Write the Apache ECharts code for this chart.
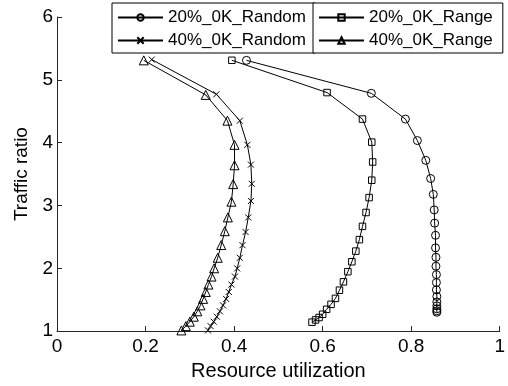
<!DOCTYPE html>
<html><head><meta charset="utf-8">
<script src="https://cdn.jsdelivr.net/npm/echarts@6/dist/echarts.min.js"></script>
<style>html,body{margin:0;padding:0;background:#fff}#c{width:508px;height:386px}</style>
</head><body><div id="c"></div>
<script>
const seriesNames = ['20%_0K_Random', '40%_0K_Random', '20%_0K_Range', '40%_0K_Range'];
const xLimits = [0, 1];
const yLimits = [1, 6];

const random20X = [0.428, 0.710, 0.787, 0.814, 0.833, 0.844, 0.850, 0.852, 0.853, 0.855, 0.855, 0.856, 0.856, 0.857, 0.857, 0.857, 0.858, 0.858, 0.858, 0.858, 0.858, 0.858];
const random20Y = [5.31, 4.785, 4.375, 4.033, 3.718, 3.429, 3.177, 2.929, 2.719, 2.525, 2.325, 2.175, 2.033, 1.899, 1.773, 1.655, 1.552, 1.465, 1.402, 1.355, 1.323, 1.30];

const range20X = [0.395, 0.610, 0.690, 0.711, 0.713, 0.711, 0.705, 0.698, 0.690, 0.683, 0.675, 0.666, 0.657, 0.647, 0.638, 0.629, 0.619, 0.609, 0.600, 0.592, 0.584, 0.576];
const range20Y = [5.311, 4.797, 4.375, 4.008, 3.692, 3.402, 3.125, 2.888, 2.667, 2.456, 2.273, 2.104, 1.946, 1.784, 1.651, 1.521, 1.426, 1.347, 1.268, 1.216, 1.178, 1.142];

const random40X = [0.214, 0.360, 0.413, 0.430, 0.438, 0.440, 0.438, 0.432, 0.426, 0.419, 0.413, 0.407, 0.402, 0.394, 0.388, 0.382, 0.375, 0.368, 0.361, 0.354, 0.347, 0.341];
const random40Y = [5.322, 4.770, 4.349, 3.965, 3.650, 3.345, 3.071, 2.809, 2.577, 2.368, 2.167, 1.998, 1.868, 1.741, 1.623, 1.513, 1.410, 1.315, 1.229, 1.150, 1.079, 1.011];

const range40X = [0.196, 0.336, 0.385, 0.401, 0.401, 0.398, 0.394, 0.386, 0.379, 0.371, 0.363, 0.355, 0.349, 0.342, 0.336, 0.330, 0.324, 0.317, 0.309, 0.300, 0.291, 0.281];
const range40Y = [5.31, 4.76, 4.35, 3.965, 3.64, 3.34, 3.06, 2.81, 2.59, 2.37, 2.167, 2.0, 1.868, 1.741, 1.623, 1.513, 1.410, 1.315, 1.229, 1.150, 1.079, 1.011];

const FONT = "'Liberation Sans', Arial, Helvetica, sans-serif";
const zip = (xs, ys) => xs.map((x, i) => [x, ys[i]]);

function mkSeries(name, xs, ys, symbol, size) {
  return {
    name, type: 'line', data: zip(xs, ys),
    symbol, symbolSize: size, showSymbol: true,
    lineStyle: { color: '#000', width: 1 },
    itemStyle: { color: 'transparent', borderColor: '#000', borderWidth: 1 },
    emphasis: { disabled: true },
    z: 3
  };
}

const legendBase = {
  orient: 'vertical', top: 3, itemWidth: 45, itemHeight: 8, itemGap: 6,
  borderColor: '#000', borderWidth: 1, backgroundColor: '#fff',
  textStyle: { fontFamily: FONT, fontSize: 17, color: '#000', lineHeight: 17 },
  selectedMode: false
};

const chart = echarts.init(document.getElementById('c'), null, { renderer: 'canvas' });
chart.setOption({
  animation: false,
  backgroundColor: '#fff',
  grid: { left: 57, right: 5, top: 17, bottom: 52, containLabel: false },
  legend: [
    Object.assign({}, legendBase, { left: 112, padding: [6, 9, 4, 5], data: [seriesNames[0], seriesNames[1]] }),
    Object.assign({}, legendBase, { left: 313, padding: [6, 10, 4, 5], data: [seriesNames[2], seriesNames[3]] })
  ],
  xAxis: {
    type: 'value', min: xLimits[0], max: xLimits[1], interval: 0.2,
    name: 'Resource utilization', nameLocation: 'middle', nameGap: 29,
    nameTextStyle: { fontFamily: FONT, fontSize: 20, color: '#000' },
    axisLine: { show: true, lineStyle: { color: '#262626', width: 1 } },
    axisTick: { show: true, inside: true, length: 5, lineStyle: { color: '#262626' } },
    axisLabel: { fontFamily: FONT, fontSize: 19, color: '#000', margin: 6 },
    splitLine: { show: false }
  },
  yAxis: {
    type: 'value', min: yLimits[0], max: yLimits[1], interval: 1,
    name: 'Traffic ratio', nameLocation: 'middle', nameGap: 19,
    nameTextStyle: { fontFamily: FONT, fontSize: 19, color: '#000' },
    axisLine: { show: true, lineStyle: { color: '#262626', width: 1 } },
    axisTick: { show: true, inside: true, length: 5, lineStyle: { color: '#262626' } },
    axisLabel: { fontFamily: FONT, fontSize: 19, color: '#000', margin: 4 },
    splitLine: { show: false }
  },
  series: [
    mkSeries(seriesNames[0], random20X, random20Y, 'circle', 8),
    mkSeries(seriesNames[1], random40X, random40Y, 'path://M0,0L10,10M10,0L0,10', 6),
    mkSeries(seriesNames[2], range20X, range20Y, 'rect', 6.5),
    mkSeries(seriesNames[3], range40X, range40Y, 'triangle', 9)
  ]
});
</script>
</body></html>
